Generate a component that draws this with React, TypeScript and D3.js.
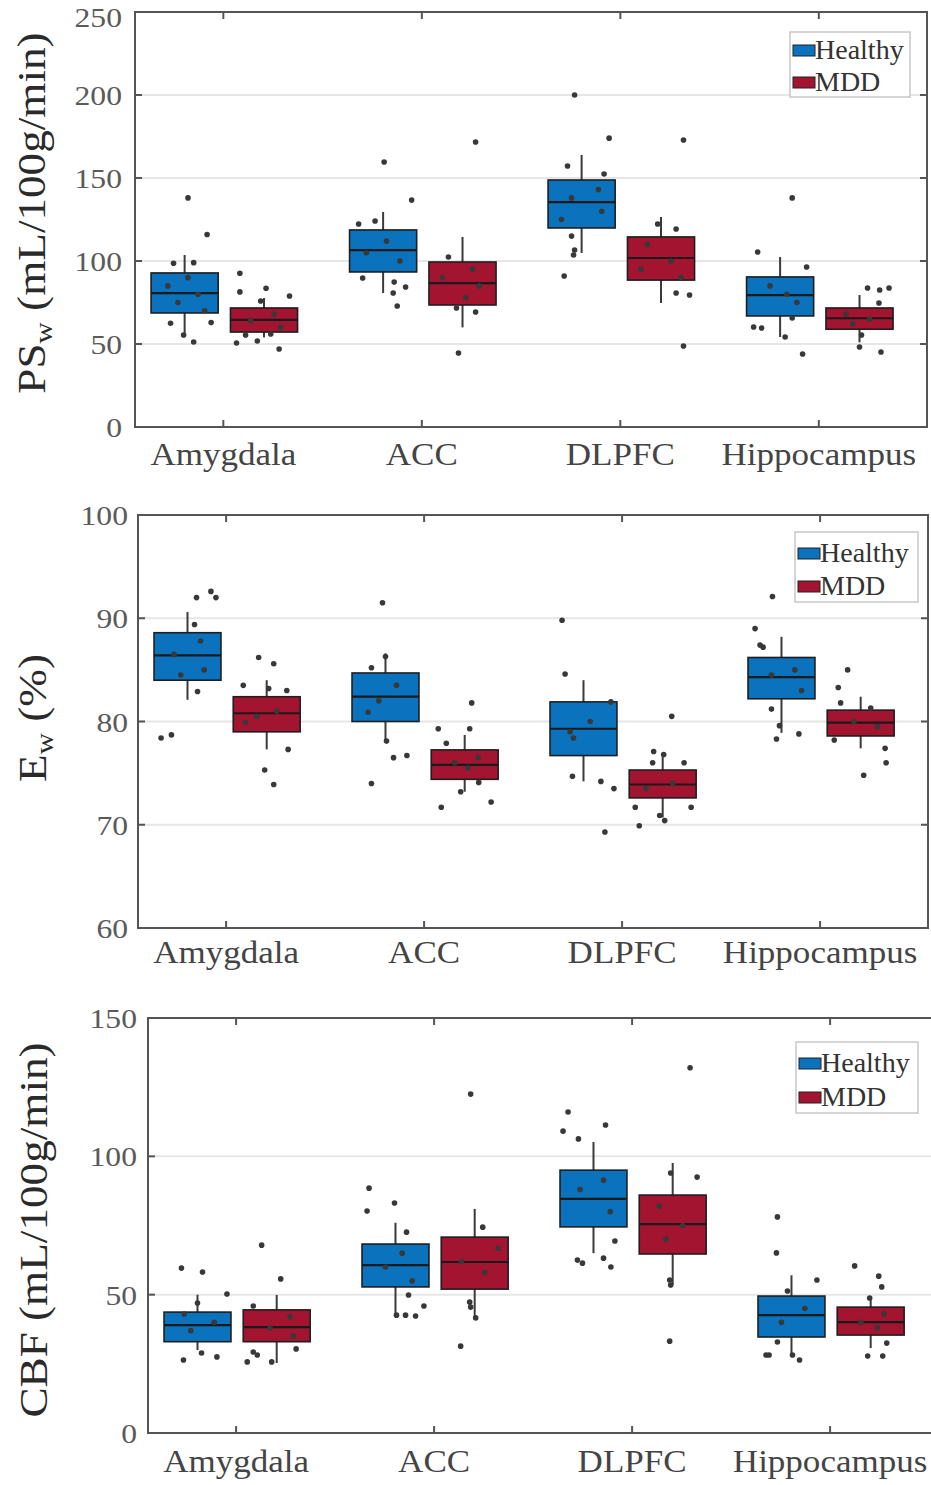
import React from "react";
import * as d3 from "d3";

// ---------------- DATA ----------------
const categories = ["Amygdala", "ACC", "DLPFC", "Hippocampus"];
const groups = ["Healthy", "MDD"];

// box stats per category: [whiskerLow, q1, median, q3, whiskerHigh]
const pswHealthyBox = [
  [55, 68.7, 80.7, 92.8, 103.6],
  [80.7, 93.4, 106.6, 118.7, 129.5],
  [104.8, 119.9, 135.5, 148.8, 163.9],
  [54.2, 66.9, 79.5, 90.4, 102.4],
];
const pswMddBox = [
  [54, 57.2, 64.5, 71.7, 77.7],
  [60, 73.5, 86.7, 99.4, 114.5],
  [74.7, 88.5, 101.8, 114.5, 126.5],
  [51, 58.9, 65.5, 71.7, 79.5],
];
const ewHealthyBox = [
  [82.1, 84.0, 86.4, 88.6, 90.6],
  [78.2, 80.0, 82.4, 84.7, 86.6],
  [74.2, 76.7, 79.3, 81.9, 84.0],
  [78.9, 82.2, 84.3, 86.2, 88.2],
];
const ewMddBox = [
  [77.3, 79.0, 80.8, 82.4, 84.0],
  [73.2, 74.4, 75.8, 77.25, 78.7],
  [70.7, 72.6, 73.9, 75.3, 76.8],
  [77.4, 78.6, 79.9, 81.1, 82.4],
];
const cbfHealthyBox = [
  [30, 33, 39, 43.7, 50],
  [42.6, 52.8, 60.7, 68.3, 76],
  [65, 74.5, 84.6, 95, 105.2],
  [27.5, 34.7, 42.6, 49.5, 57],
];
const cbfMddBox = [
  [25.3, 33, 38.3, 44.5, 49.9],
  [42, 52, 61.8, 70.8, 81],
  [53.5, 64.7, 75.5, 86, 97.6],
  [30.7, 35.4, 40.1, 45.5, 48.8],
];

// individual subjects per category: [value, horizontal jitter (-1..1 of box half-width)]
const pswHealthyPts = [
  [[138, 0.1], [116, 0.67], [98.6, -0.33], [99, 0.27], [90, 0.1], [85, -0.5], [80, 0.4], [75, -0.2], [70, 0.6], [62.5, -0.42], [62.9, 0.79], [55.4, -0.03], [51.2, 0.27]],
  [[159.6, 0.03], [136.7, 0.85], [122.3, -0.73], [124.1, -0.24], [112, 0.1], [105, -0.5], [100, 0.5], [89.8, -0.61], [87.3, 0.33], [84.3, 0.67], [80.7, 0.3], [72.9, 0.42]],
  [[200, -0.21], [174, 0.82], [157.2, -0.42], [152.4, 0.67], [143, 0.5], [138, -0.3], [130, 0.6], [125, -0.6], [115, -0.3], [106.6, -0.21], [103.6, -0.24], [91, -0.52]],
  [[138, 0.36], [105.4, -0.67], [96.4, 0.79], [85, -0.3], [80, 0.2], [75, 0.5], [65.7, 0.36], [60.2, -0.79], [59.6, -0.55], [54.2, 0.15], [44, 0.67]],
];
const pswMddPts = [
  [[92.6, -0.72], [81.4, -0.72], [83.6, 0.06], [78.9, 0.76], [75.9, -0.1], [68, 0.3], [64, -0.4], [60, 0.5], [56, 0.2], [55.4, -0.55], [51.8, -0.2], [50.6, -0.82], [47, 0.45]],
  [[171.7, 0.39], [102.4, -0.42], [95, 0.3], [90, -0.6], [85, 0.5], [78, 0.1], [71.7, -0.18], [69.3, 0.39], [44.6, -0.12]],
  [[172.9, 0.67], [122.3, -0.1], [119.3, 0.45], [110, -0.4], [100, 0.3], [95, -0.6], [90, 0.6], [80.7, 0.45], [79.5, 0.85], [48.8, 0.67]],
  [[83.7, 0.24], [82.5, 0.6], [83.7, 0.88], [74.7, 0.58], [68, -0.4], [65, 0.3], [62, -0.2], [55.4, 0.06], [48.2, 0], [45.2, 0.64]],
];
const ewHealthyPts = [
  [[92.0, 0.27], [92.6, 0.7], [92.0, 0.85], [89.4, 0.21], [87.8, 0.39], [86.5, -0.4], [85, 0.5], [84.5, -0.2], [82.9, 0.3], [78.4, -0.79], [78.7, -0.48]],
  [[91.5, -0.09], [86.3, 0], [85.2, -0.42], [83.5, 0.33], [82, -0.2], [80.9, -0.52], [78.1, 0.03], [76.5, 0.24], [76.7, 0.64], [74.0, -0.42]],
  [[89.8, -0.64], [84.6, -0.55], [81.9, 0.82], [80, 0.2], [79, -0.4], [78.4, -0.3], [74.7, -0.33], [74.2, 0.52], [73.5, 0.91], [69.3, 0.64]],
  [[92.1, -0.27], [89.0, -0.79], [87.4, -0.64], [87.2, -0.55], [85, 0.4], [84.5, -0.3], [83, 0.6], [81.2, -0.3], [79.6, -0.06], [78.8, 0.52], [78.3, -0.15]],
];
const ewMddPts = [
  [[86.2, -0.24], [85.6, 0.21], [83.5, -0.7], [83.2, 0.06], [83, 0.6], [81, 0.3], [80.5, -0.3], [79.9, -0.64], [77.3, 0.64], [75.3, -0.06], [73.9, 0.21]],
  [[81.8, 0.21], [79.3, -0.79], [79.3, 0.15], [77.9, -0.55], [76.5, 0.4], [76, -0.3], [75.5, 0.1], [74.1, 0.42], [73.2, -0.12], [72.2, 0.79], [71.7, -0.7]],
  [[80.5, 0.27], [77.1, -0.27], [76.8, 0.03], [76.0, -0.3], [76.0, 0.64], [74, 0.3], [73.5, -0.5], [71.7, -0.82], [71.7, 0.85], [70.9, -0.09], [70.4, 0.06], [69.9, -0.7]],
  [[85.0, -0.39], [83.3, -0.67], [81.8, -0.6], [81.3, 0.3], [80, -0.2], [79.5, 0.5], [78.2, -0.79], [77.4, 0.73], [76.0, 0.76], [74.8, 0.09]],
];
const cbfHealthyPts = [
  [[59.6, -0.48], [58.2, 0.15], [50.2, 0.88], [47, 0], [43, -0.4], [40, 0.5], [37, -0.2], [28.9, 0.12], [27.5, 0.58], [26.4, -0.42]],
  [[88.5, -0.79], [83.1, -0.03], [80.2, -0.85], [72.6, 0.33], [65, 0.2], [60, -0.3], [55, 0.5], [49.9, 0.39], [45.9, 0.85], [42.6, 0.03], [42.6, 0.3], [42.3, 0.6]],
  [[116, -0.76], [111.3, 0.36], [109.1, -0.91], [106.3, -0.45], [91.4, 0.3], [88, -0.4], [80, 0.5], [69.4, 0.64], [63.2, 0.3], [62.5, -0.48], [61.4, -0.33], [60, 0.52]],
  [[78.1, -0.42], [65.1, -0.45], [55.3, 0.76], [51.3, -0.12], [45, 0.4], [40, -0.3], [32.9, -0.42], [28.2, -0.76], [28.2, -0.67], [28.2, 0.03], [26.4, 0.24]],
];
const cbfMddPts = [
  [[67.9, -0.45], [55.7, 0.12], [45.9, -0.7], [42, 0.4], [38, -0.2], [35, 0.5], [30.4, 0.58], [29.3, -0.7], [28.2, -0.58], [25.7, -0.88], [25.7, -0.15]],
  [[122.5, -0.12], [74.4, 0.24], [66.8, 0.7], [62, -0.4], [58, 0.3], [47.3, -0.15], [45.5, -0.12], [41.6, 0.03], [31.4, -0.42]],
  [[132, 0.52], [94, -0.06], [92.5, 0.73], [82, -0.4], [75, 0.3], [70, -0.2], [55.3, -0.09], [53.5, -0.06], [33.2, -0.09]],
  [[60.4, -0.48], [56.7, 0.24], [52.8, 0.33], [48.8, -0.03], [43, 0.4], [40, -0.3], [38, 0.2], [32.5, 0.48], [27.8, -0.09], [27.8, 0.36]],
];

const pswTicks = [0, 50, 100, 150, 200, 250];
const ewTicks = [60, 70, 80, 90, 100];
const cbfTicks = [0, 50, 100, 150];

// ---------------- STYLE / LAYOUT ----------------
const W = 931;
const H = 1485;
const FONT = "'Liberation Serif', 'Times New Roman', serif";
const groupColors = ["#0b72bd", "#a2142f"];
const groupOffsets = [-0.195, 0.205];
const boxWidthUnits = 0.338;

const panels = [
  {
    key: "psw", left: 135, right: 927, top: 12, bottom: 427, domain: [0, 250], ticks: pswTicks,
    boxes: [pswHealthyBox, pswMddBox], pts: [pswHealthyPts, pswMddPts],
    labelMain: "PS", labelSub: "w", labelRest: " (mL/100g/min)", labelX: 45, labelY: 213,
    catBaseline: 465, tickGap: 13, legend: { x: 790, y: 32, w: 120, h: 65, b1: 59, b2: 91 },
  },
  {
    key: "ew", left: 138, right: 928, top: 515, bottom: 928, domain: [60, 100], ticks: ewTicks,
    boxes: [ewHealthyBox, ewMddBox], pts: [ewHealthyPts, ewMddPts],
    labelMain: "E", labelSub: "w", labelRest: " (%)", labelX: 46, labelY: 718,
    catBaseline: 963, tickGap: 10, legend: { x: 795, y: 532, w: 123, h: 70, b1: 562, b2: 595 },
  },
  {
    key: "cbf", left: 148, right: 938, top: 1018, bottom: 1433, domain: [0, 150], ticks: cbfTicks,
    boxes: [cbfHealthyBox, cbfMddBox], pts: [cbfHealthyPts, cbfMddPts],
    labelMain: "CBF", labelSub: "", labelRest: " (mL/100g/min)", labelX: 47, labelY: 1230,
    catBaseline: 1472, tickGap: 11, legend: { x: 796, y: 1042, w: 122, h: 71, b1: 1072, b2: 1106 },
  },
];

function Panel({ p }: { p: any }) {
  const x = d3.scaleLinear().domain([0.555, 4.545]).range([p.left, p.right]);
  const y = d3.scaleLinear().domain(p.domain).range([p.bottom, p.top]);
  const hw = (x(1 + boxWidthUnits) - x(1)) / 2;
  const tickLen = 7;
  const stretch = 1.13;

  return (
    <g>
      {/* grid */}
      {p.ticks.map((t: number) => (
        <line key={"g" + t} x1={p.left} x2={p.right} y1={y(t)} y2={y(t)} stroke="#e6e6e6" strokeWidth={2} />
      ))}
      {/* boxes */}
      {groups.map((g, gi) =>
        categories.map((c, ci) => {
          const [wl, q1, med, q3, wh] = p.boxes[gi][ci];
          const cx = x(ci + 1 + groupOffsets[gi]);
          return (
            <g key={g + c}>
              <line x1={cx} x2={cx} y1={y(wl)} y2={y(wh)} stroke="#3a3a3a" strokeWidth={2} />
              <rect x={cx - hw} y={y(q3)} width={hw * 2} height={y(q1) - y(q3)} fill={groupColors[gi]} stroke="#1e1e1e" strokeWidth={1.6} />
              <line x1={cx - hw} x2={cx + hw} y1={y(med)} y2={y(med)} stroke="#1a1a1a" strokeWidth={2.2} />
            </g>
          );
        })
      )}
      {/* points */}
      {groups.map((g, gi) =>
        categories.map((c, ci) => {
          const cx = x(ci + 1 + groupOffsets[gi]);
          return p.pts[gi][ci].map((pt: number[], k: number) => (
            <circle key={g + c + k} cx={cx + pt[1] * hw} cy={y(pt[0])} r={2.8} fill="#383838" />
          ));
        })
      )}
      {/* axes frame */}
      <rect x={p.left} y={p.top} width={p.right - p.left} height={p.bottom - p.top} fill="none" stroke="#555" strokeWidth={2} />
      {/* y ticks */}
      {p.ticks.map((t: number) => (
        <g key={"yt" + t}>
          <line x1={p.left} x2={p.left + tickLen} y1={y(t)} y2={y(t)} stroke="#555" strokeWidth={2} />
          <line x1={p.right} x2={p.right - tickLen} y1={y(t)} y2={y(t)} stroke="#555" strokeWidth={2} />
          <text
            transform={`translate(${p.left - p.tickGap},${Math.max(y(t) + 10, 27)}) scale(${stretch},1)`}
            textAnchor="end" fontSize={28} fontFamily={FONT} fill="#5a5a5a"
          >
            {t}
          </text>
        </g>
      ))}
      {/* x ticks and category labels */}
      {categories.map((c, ci) => (
        <g key={"xt" + c}>
          <line x1={x(ci + 1)} x2={x(ci + 1)} y1={p.bottom} y2={p.bottom - tickLen} stroke="#555" strokeWidth={2} />
          <line x1={x(ci + 1)} x2={x(ci + 1)} y1={p.top} y2={p.top + tickLen} stroke="#555" strokeWidth={2} />
          <text
            transform={`translate(${x(ci + 1)},${p.catBaseline}) scale(${stretch},1)`}
            textAnchor="middle" fontSize={31} fontFamily={FONT} fill="#444"
          >
            {c}
          </text>
        </g>
      ))}
      {/* y label */}
      <text
        transform={`translate(${p.labelX},${p.labelY}) rotate(-90) scale(${stretch},1)`}
        textAnchor="middle" fontSize={40} fontFamily={FONT} fill="#2a2a2a"
      >
        {p.labelMain}
        {p.labelSub ? (
          <>
            <tspan dy={7} fontSize={26}>{p.labelSub}</tspan>
            <tspan dy={-7}>{p.labelRest}</tspan>
          </>
        ) : (
          <tspan>{p.labelRest}</tspan>
        )}
      </text>
      {/* legend */}
      <g>
        <rect x={p.legend.x} y={p.legend.y} width={p.legend.w} height={p.legend.h} fill="#fff" stroke="#c8c8c8" strokeWidth={1.5} />
        {groups.map((g, gi) => {
          const b = gi === 0 ? p.legend.b1 : p.legend.b2;
          return (
            <g key={"lg" + g}>
              <rect x={p.legend.x + 3} y={b - 14} width={22} height={11} fill={groupColors[gi]} stroke="#222" strokeWidth={1} />
              <text x={p.legend.x + 25} y={b} fontSize={28} fontFamily={FONT} fill="#333">
                {g}
              </text>
            </g>
          );
        })}
      </g>
    </g>
  );
}

export default function App() {
  return (
    <svg
      width={W}
      height={H}
      viewBox={`0 0 ${W} ${H}`}
      style={{ position: "absolute", left: 0, top: 0, background: "#fff" }}
    >
      <rect x={0} y={0} width={W} height={H} fill="#fff" />
      {panels.map((p) => (
        <Panel key={p.key} p={p} />
      ))}
    </svg>
  );
}
